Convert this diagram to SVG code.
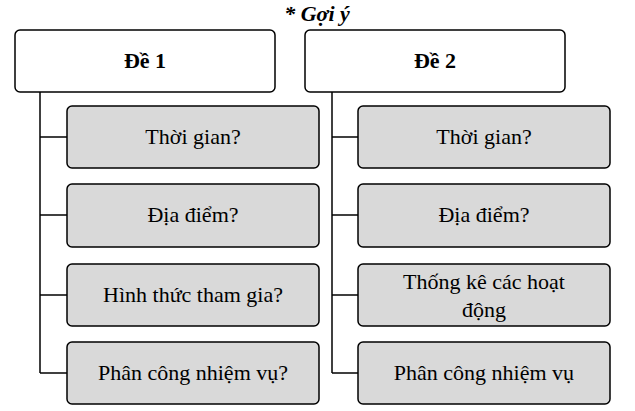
<svg xmlns="http://www.w3.org/2000/svg" width="635" height="411" viewBox="0 0 635 411">
<style>
.h{fill:#fff;stroke:#000;stroke-width:1.5}
.g{fill:#d9d9d9;stroke:#000;stroke-width:1.5}
text{font-family:"Liberation Serif","Times New Roman","DejaVu Serif",serif;font-size:22px;text-anchor:middle;fill:#000}
.b{font-weight:bold}
line{stroke:#000;stroke-width:1.5}
</style>
<text x="317" y="21" class="b" font-style="italic" font-size="20">* Gợi ý</text>
<g id="connectors">
<line x1="40" y1="92" x2="40" y2="373"/>
<line x1="40" y1="137" x2="67" y2="137"/>
<line x1="40" y1="215" x2="67" y2="215"/>
<line x1="40" y1="295" x2="67" y2="295"/>
<line x1="40" y1="373" x2="67" y2="373"/>
<line x1="332" y1="92" x2="332" y2="373"/>
<line x1="332" y1="137" x2="358" y2="137"/>
<line x1="332" y1="215" x2="358" y2="215"/>
<line x1="332" y1="295" x2="358" y2="295"/>
<line x1="332" y1="373" x2="358" y2="373"/>
</g>
<g id="de1"><rect class="h" x="15" y="30" width="260" height="62" rx="5"/><text x="145" y="68" class="b">Đề 1</text></g>
<g id="de2"><rect class="h" x="305" y="30" width="260" height="62" rx="5"/><text x="435" y="68" class="b">Đề 2</text></g>
<g id="l1"><rect class="g" x="67" y="106" width="252" height="62" rx="5"/><text x="193" y="144">Thời gian?</text></g>
<g id="l2"><rect class="g" x="67" y="184" width="252" height="63" rx="5"/><text x="193" y="222">Địa điểm?</text></g>
<g id="l3"><rect class="g" x="67" y="264" width="252" height="62" rx="5"/><text x="193" y="302">Hình thức tham gia?</text></g>
<g id="l4"><rect class="g" x="67" y="342" width="252" height="62" rx="5"/><text x="193" y="380">Phân công nhiệm vụ?</text></g>
<g id="r1"><rect class="g" x="358" y="106" width="252" height="62" rx="5"/><text x="484" y="144">Thời gian?</text></g>
<g id="r2"><rect class="g" x="358" y="184" width="252" height="63" rx="5"/><text x="484" y="222">Địa điểm?</text></g>
<g id="r3"><rect class="g" x="358" y="264" width="252" height="62" rx="5"/><text x="484" y="289">Thống kê các hoạt</text><text x="484" y="317">động</text></g>
<g id="r4"><rect class="g" x="358" y="342" width="252" height="62" rx="5"/><text x="484" y="380">Phân công nhiệm vụ</text></g>
</svg>
